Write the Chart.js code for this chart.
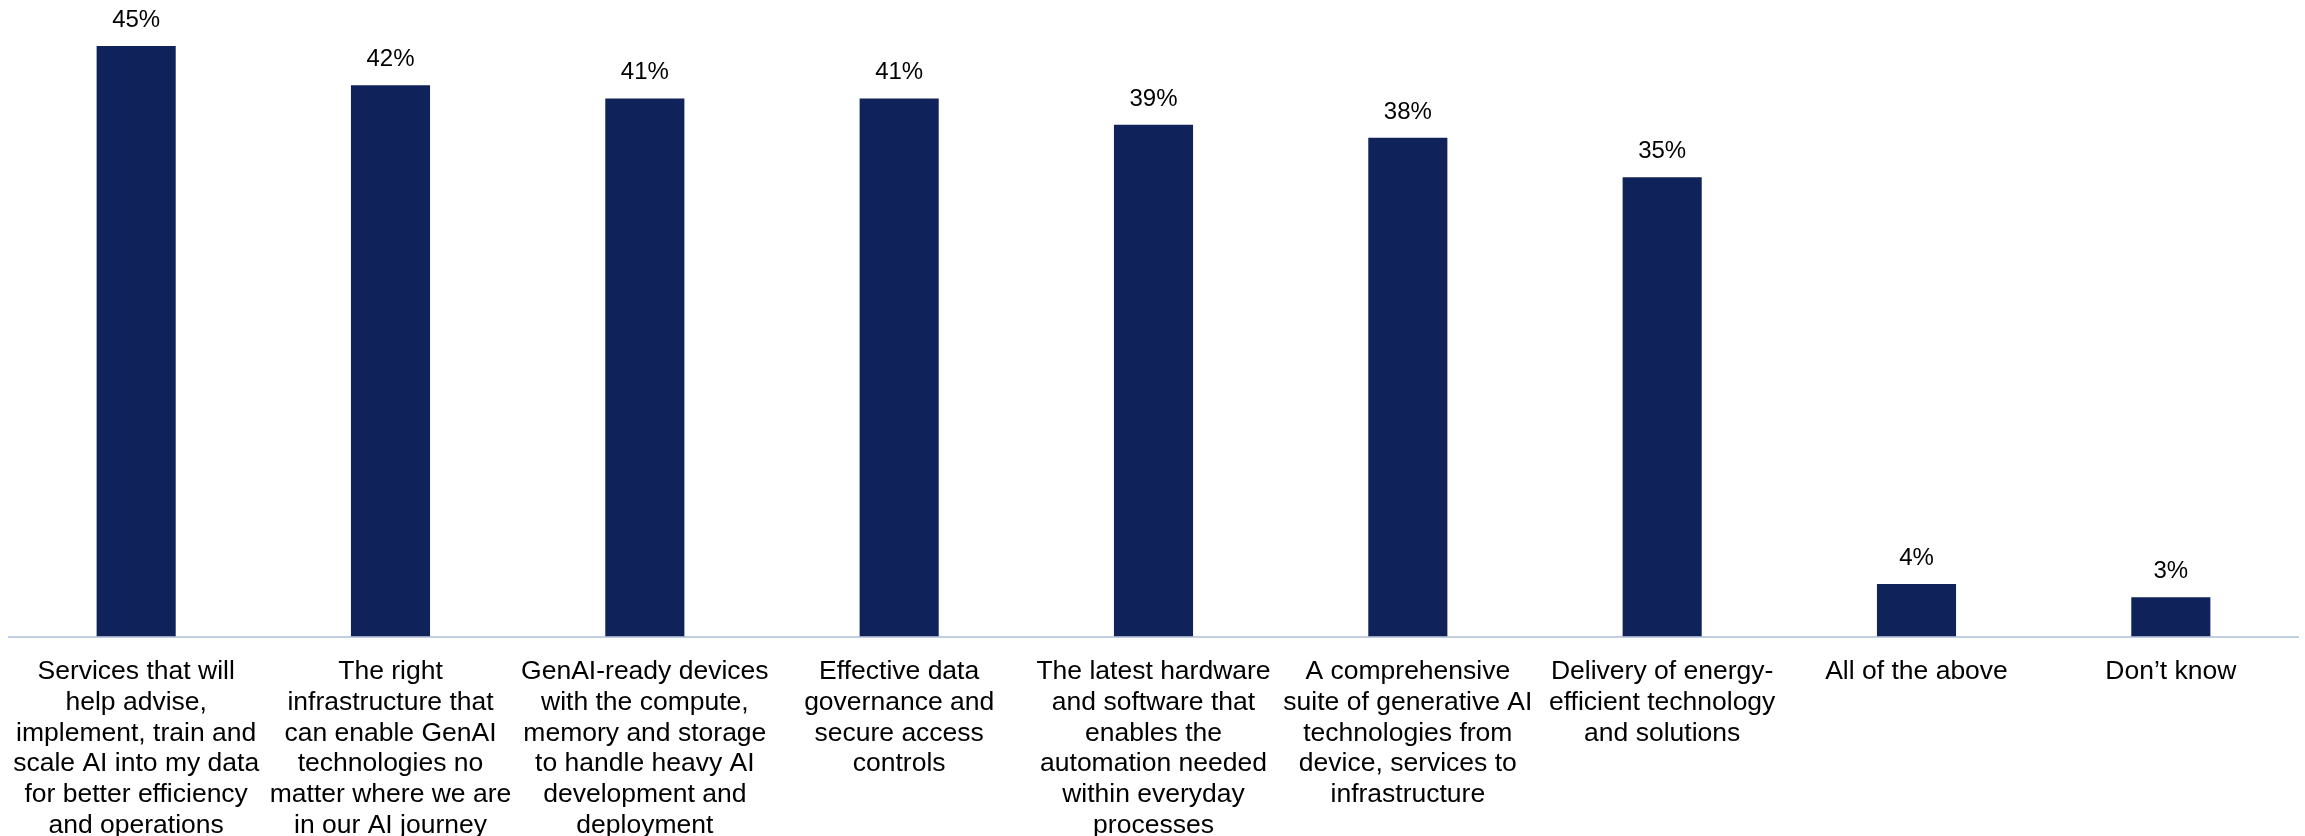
<!DOCTYPE html>
<html>
<head>
<meta charset="utf-8">
<title>GenAI priorities</title>
<script src="https://cdn.jsdelivr.net/npm/chart.js@4"></script>
<style>
  html, body { margin: 0; padding: 0; background: #ffffff; }
  #wrap { width: 2305px; height: 836px; position: relative; }
</style>
</head>
<body>
<div id="wrap"><canvas id="chartCanvas"></canvas></div>
<script>
// categories, one array of lines per bar
const categories = [
  ["Services that will", "help advise,", "implement, train and", "scale AI into my data", "for better efficiency", "and operations"],
  ["The right", "infrastructure that", "can enable GenAI", "technologies no", "matter where we are", "in our AI journey"],
  ["GenAI-ready devices", "with the compute,", "memory and storage", "to handle heavy AI", "development and", "deployment"],
  ["Effective data", "governance and", "secure access", "controls"],
  ["The latest hardware", "and software that", "enables the", "automation needed", "within everyday", "processes"],
  ["A comprehensive", "suite of generative AI", "technologies from", "device, services to", "infrastructure"],
  ["Delivery of energy-", "efficient technology", "and solutions"],
  ["All of the above"],
  ["Don\u2019t know"],
];

// share of respondents, %
const shares = [45, 42, 41, 41, 39, 38, 35, 4, 3];

const barColor = "#10225a";
const axisColor = "#c0cfe2";

// writes "NN%" above every bar
const valueLabels = {
  id: "valueLabels",
  afterDatasetsDraw(chart) {
    const ctx = chart.ctx;
    const meta = chart.getDatasetMeta(0);
    ctx.save();
    ctx.font = "24px 'Liberation Sans', Arial, sans-serif";
    ctx.fillStyle = "#000000";
    ctx.textAlign = "center";
    ctx.textBaseline = "alphabetic";
    meta.data.forEach((bar, i) => {
      ctx.fillText(shares[i] + "%", bar.x, bar.y - 19);
    });
    ctx.restore();
  },
};

const chart = new Chart(document.getElementById("chartCanvas").getContext("2d"), {
  type: "bar",
  data: {
    labels: categories,
    datasets: [
      {
        data: shares,
        backgroundColor: barColor,
        borderWidth: 0,
        barPercentage: 0.311,
        categoryPercentage: 1,
      },
    ],
  },
  options: {
    responsive: true,
    maintainAspectRatio: false,
    animation: false,
    layout: {
      padding: { top: 0, left: 9, right: 7, bottom: -17 },
    },
    plugins: {
      legend: { display: false },
      tooltip: { enabled: false },
    },
    scales: {
      x: {
        grid: { display: false },
        border: { display: true, color: axisColor, width: 2 },
        ticks: {
          color: "#000000",
          autoSkip: false,
          maxRotation: 0,
          minRotation: 0,
          padding: 12,
          font: { family: "'Liberation Sans', Arial, sans-serif", size: 26.5, lineHeight: 1.16 },
        },
      },
      y: {
        display: false,
        min: 0,
        max: 48.5,
      },
    },
  },
  plugins: [valueLabels],
});
</script>
</body>
</html>
